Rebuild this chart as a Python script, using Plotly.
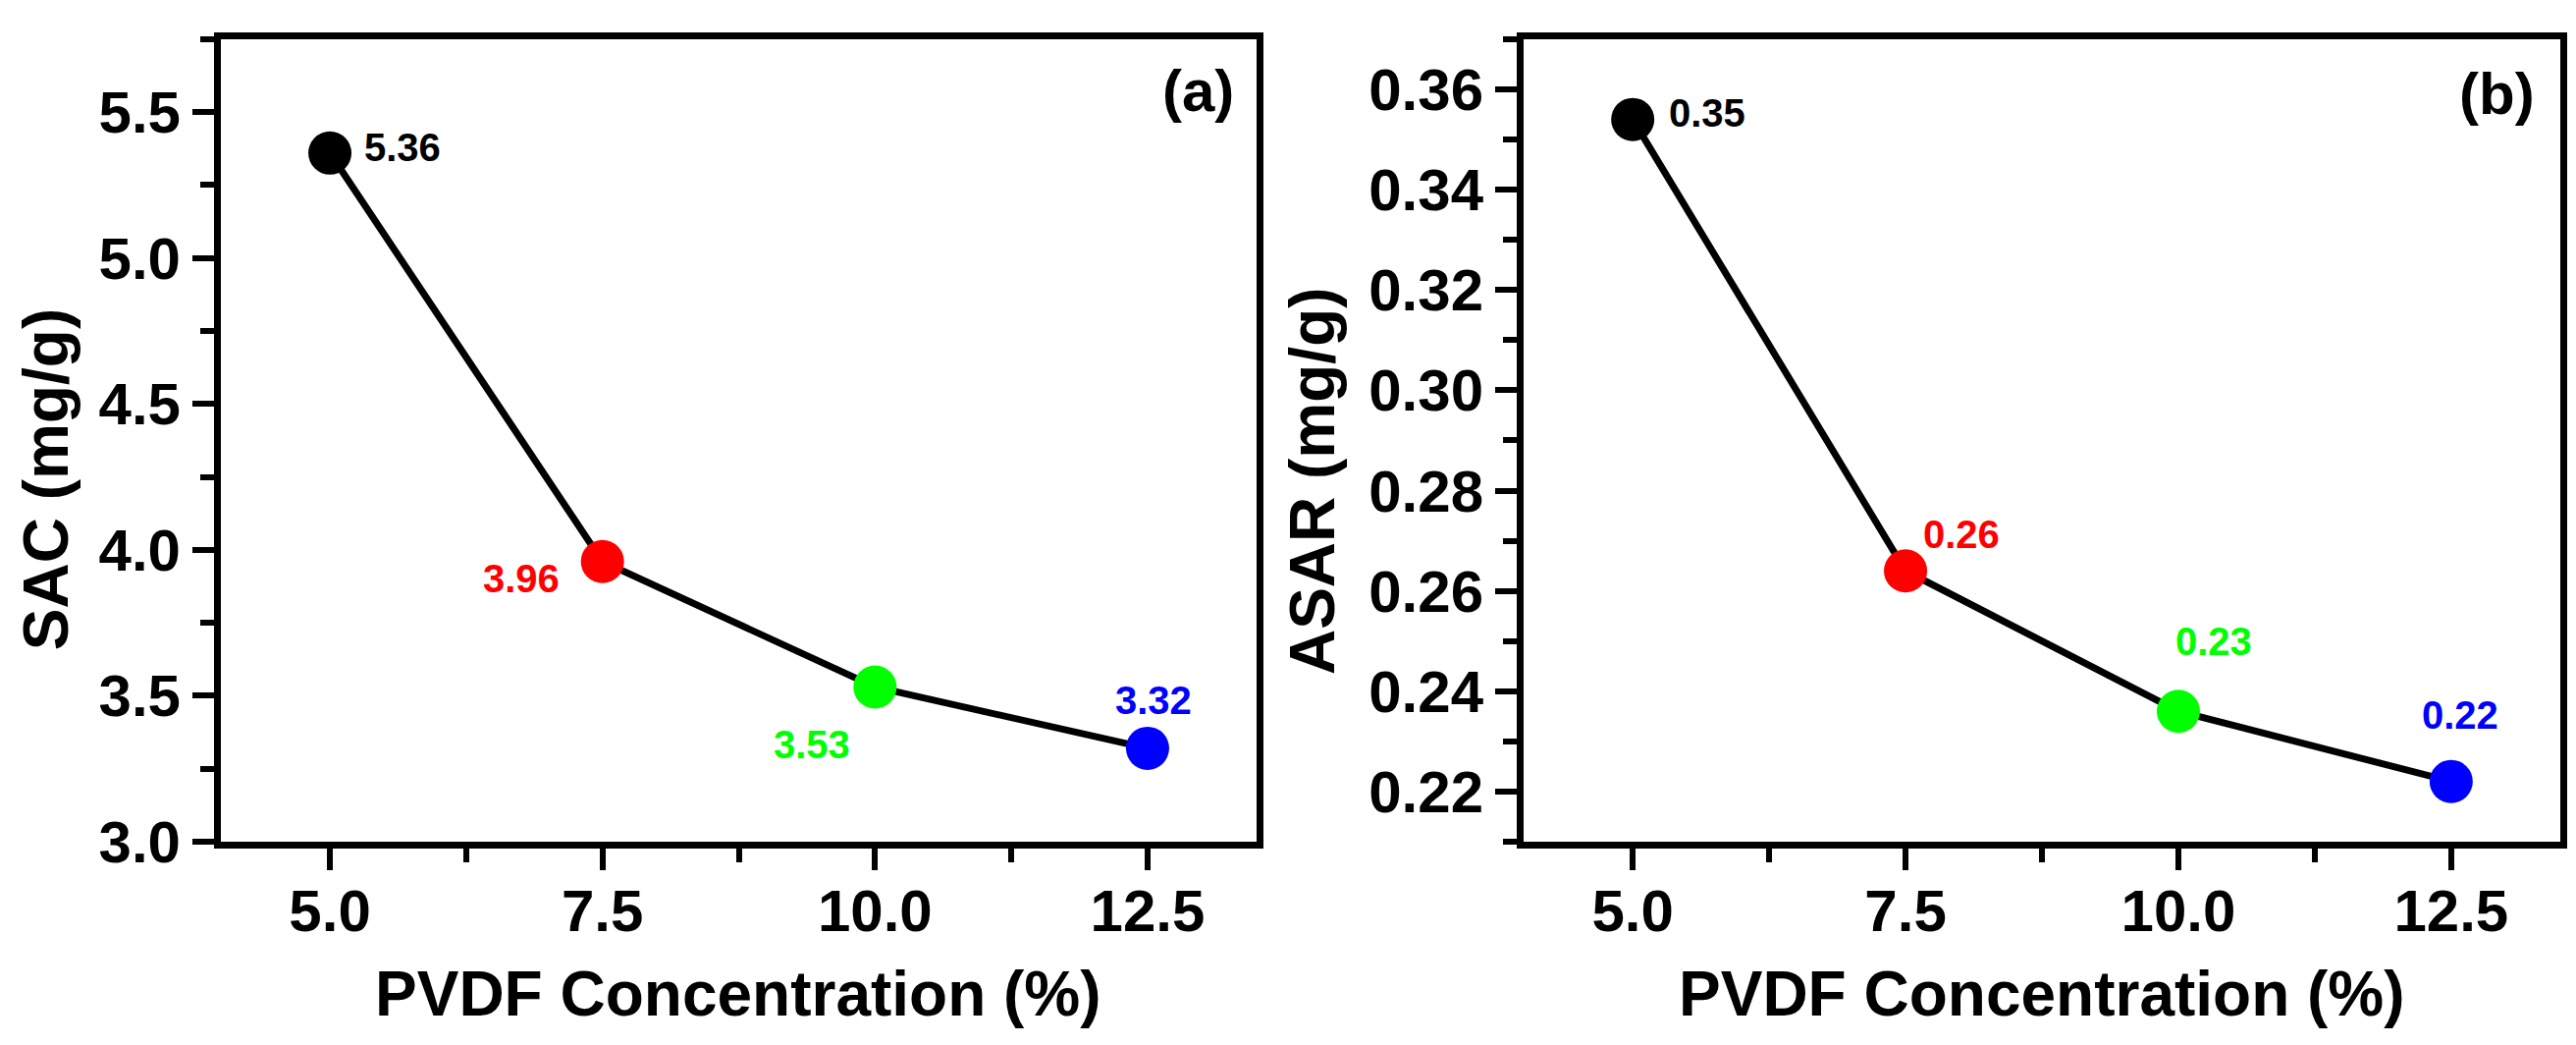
import plotly.graph_objects as go
from plotly.subplots import make_subplots

# Data
pvdf = [5.0, 7.5, 10.0, 12.5]
sac = [5.36, 3.96, 3.53, 3.32]
asar = [0.354, 0.264, 0.236, 0.222]
sac_labels = ["5.36", "3.96", "3.53", "3.32"]
asar_labels = ["0.35", "0.26", "0.23", "0.22"]
point_colors = ["#000000", "#FF0000", "#00FF00", "#0000FF"]

W, H = 2624, 1064
FONT = "Arial, Liberation Sans, sans-serif"

# pixel offsets of the value labels from their points (x right, y up)
sac_offsets = [(74, 6), (-83, -17), (-64, -58), (6, 49)]
asar_offsets = [(76, 7), (57, 37), (36, 71), (9, 68)]

fig = make_subplots(rows=1, cols=2)

for col, yvals in [(1, sac), (2, asar)]:
    fig.add_trace(go.Scatter(
        x=pvdf, y=yvals,
        mode="lines+markers",
        line=dict(color="black", width=7),
        marker=dict(color=point_colors, size=44, line=dict(width=0)),
        showlegend=False
    ), row=1, col=col)

# Value labels next to each point
for xref, yref, yvals, labels, offs in [("x", "y", sac, sac_labels, sac_offsets),
                                         ("x2", "y2", asar, asar_labels, asar_offsets)]:
    for xv, yv, txt, c, (dx, dy) in zip(pvdf, yvals, labels, point_colors, offs):
        fig.add_annotation(x=xv, y=yv, xref=xref, yref=yref, text=txt,
                           showarrow=False, xshift=dx, yshift=dy,
                           xanchor="center", yanchor="middle",
                           font=dict(family=FONT, size=40, color=c, weight="bold"))

axis_common = dict(
    showline=True, linecolor="black", linewidth=7, mirror=True,
    ticks="outside", ticklen=22, tickwidth=6, tickcolor="black",
    showgrid=False, zeroline=False,
    tickfont=dict(family=FONT, size=60, color="black", weight="bold"),
)

fig.update_xaxes(range=[4.0, 13.5], tick0=5.0, dtick=2.5, tickformat=".1f",
                 ticklabelstandoff=-10,
                 minor=dict(ticks="outside", ticklen=14, tickwidth=6, tickcolor="black", dtick=1.25, tick0=5.0),
                 **axis_common)
fig.update_xaxes(domain=[217 / W, 1272 / W], row=1, col=1)
fig.update_xaxes(domain=[1544 / W, 2600 / W], row=1, col=2)

ydom = [1 - 877 / H, 1 - 33 / H]
fig.update_yaxes(range=[3.0, 5.75], tick0=3.0, dtick=0.5, tickformat=".1f", domain=ydom,
                 minor=dict(ticks="outside", ticklen=14, tickwidth=6, tickcolor="black", dtick=0.25),
                 row=1, col=1, **axis_common)
fig.update_yaxes(range=[0.21, 0.37], tick0=0.22, dtick=0.02, tickformat=".2f", domain=ydom,
                 minor=dict(ticks="outside", ticklen=14, tickwidth=6, tickcolor="black", dtick=0.01),
                 row=1, col=2, **axis_common)

title_font = dict(family=FONT, size=64, color="black", weight="bold")
paper = dict(xref="paper", yref="paper", showarrow=False, xanchor="center", yanchor="middle")

# Axis titles
for xc in [744 / W, 2072 / W]:
    fig.add_annotation(x=xc, y=1 - 1037 / H, text="PVDF Concentration (%)", font=title_font, **paper)
fig.add_annotation(x=39 / W, y=1 - 496 / H, textangle=-90, text="SAC (mg/g)", font=title_font, **paper)
fig.add_annotation(x=1329 / W, y=1 - 498 / H, textangle=-90, text="ASAR (mg/g)", font=title_font, **paper)

# Panel tags
tag_font = dict(family=FONT, size=60, color="black", weight="bold")
fig.add_annotation(x=1212 / W, y=1 - 87 / H, text="(a)", font=tag_font, **paper)
fig.add_annotation(x=2535 / W, y=1 - 90 / H, text="(b)", font=tag_font, **paper)

fig.update_layout(
    width=W, height=H,
    margin=dict(l=0, r=0, t=0, b=0),
    plot_bgcolor="white", paper_bgcolor="white",
)

fig.write_html("out.html")
